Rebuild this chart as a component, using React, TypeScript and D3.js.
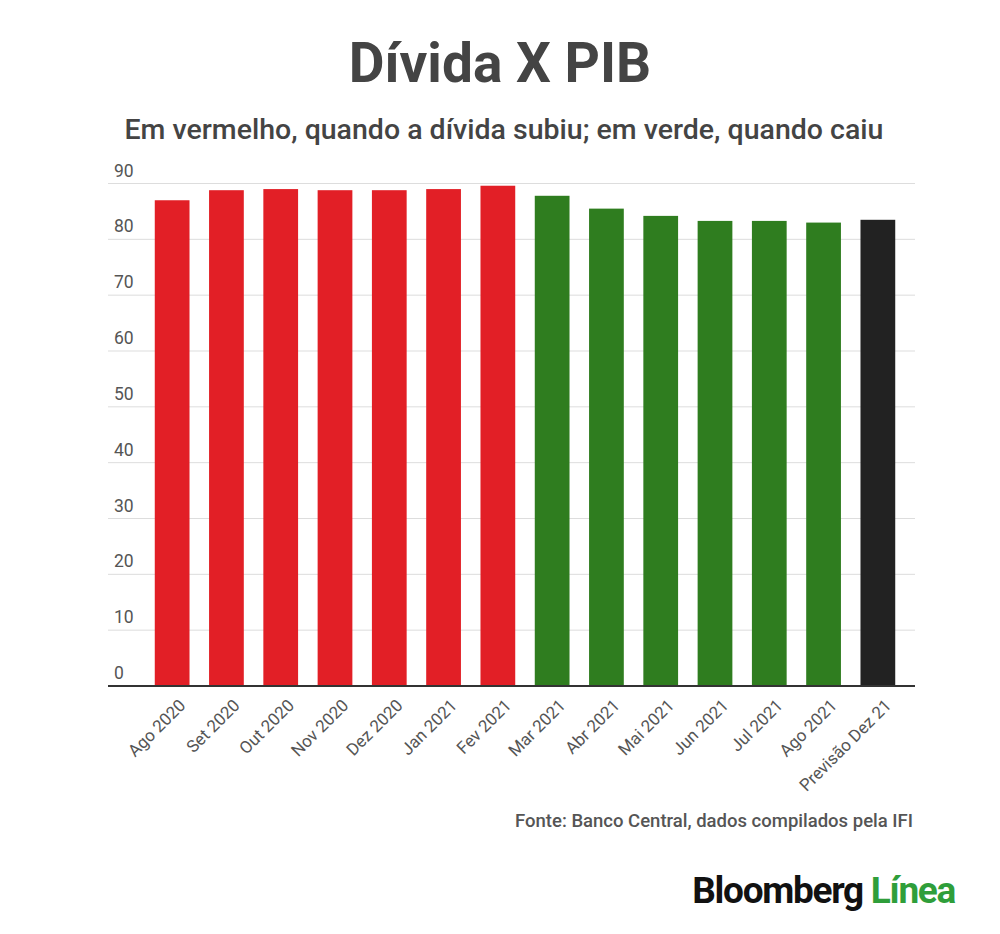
import React from "react";
import * as d3 from "d3";

const categories = ["Ago 2020","Set 2020","Out 2020","Nov 2020","Dez 2020","Jan 2021","Fev 2021","Mar 2021","Abr 2021","Mai 2021","Jun 2021","Jul 2021","Ago 2021","Previsão Dez 21"];
const values = [87.0,88.8,89.0,88.8,88.8,89.0,89.6,87.8,85.5,84.2,83.3,83.3,83.0,83.5];
const kinds = ["up","up","up","up","up","up","up","down","down","down","down","down","down","fc"];
const yTicks = [0,10,20,30,40,50,60,70,80,90];
const colors: Record<string,string> = { up: "#e21f26", down: "#2f7d1f", fc: "#222222" };

export default function App() {
  const x = d3.scaleBand<string>().domain(categories).range([145, 905]).paddingInner(0.36).paddingOuter(0.18);
  const y = d3.scaleLinear().domain([0, 90]).range([686, 183.5]);
  const font = "Roboto, 'Noto Sans', sans-serif";
  return (
    <svg width={1000} height={934} style={{ display: "block", position: "absolute", left: 0, top: 0 }} fontFamily={font}>
      <rect width={1000} height={934} fill="#fff" />
      <text x={500} y={82} textAnchor="middle" fontSize={55} fontWeight={700} fill="#444">Dívida X PIB</text>
      <text x={504} y={139} textAnchor="middle" fontSize={28.5} fontWeight={500} fill="#444">Em vermelho, quando a dívida subiu; em verde, quando caiu</text>
      {yTicks.map(t => (
        <g key={t}>
          {t > 0 && <line x1={108} x2={915} y1={y(t)} y2={y(t)} stroke="#ddd" strokeWidth={1} />}
          <text x={114} y={y(t) - 7} fontSize={17.5} fill="#555">{t}</text>
        </g>
      ))}
      {categories.map((c, i) => (
        <rect key={c} x={x(c)} y={y(values[i])} width={x.bandwidth()} height={y(0) - y(values[i])} fill={colors[kinds[i]]} />
      ))}
      <line x1={108} x2={915} y1={686} y2={686} stroke="#333" strokeWidth={2} />
      {categories.map(c => {
        const cx = (x(c) as number) + x.bandwidth() / 2;
        return (
          <text key={c} transform={`translate(${cx + 6},${698}) rotate(-45)`} textAnchor="end" fontSize={17} fill="#555" dy="0.7em">{c}</text>
        );
      })}
      <text x={913} y={827} textAnchor="end" fontSize={18.5} fontWeight={500} fill="#555">Fonte: Banco Central, dados compilados pela IFI</text>
      <text x={955} y={903} textAnchor="end" fontSize={37} fontWeight={700} letterSpacing={-1.3}>
        <tspan fill="#111">Bloomberg </tspan><tspan fill="#2f9e3a">Línea</tspan>
      </text>
    </svg>
  );
}
